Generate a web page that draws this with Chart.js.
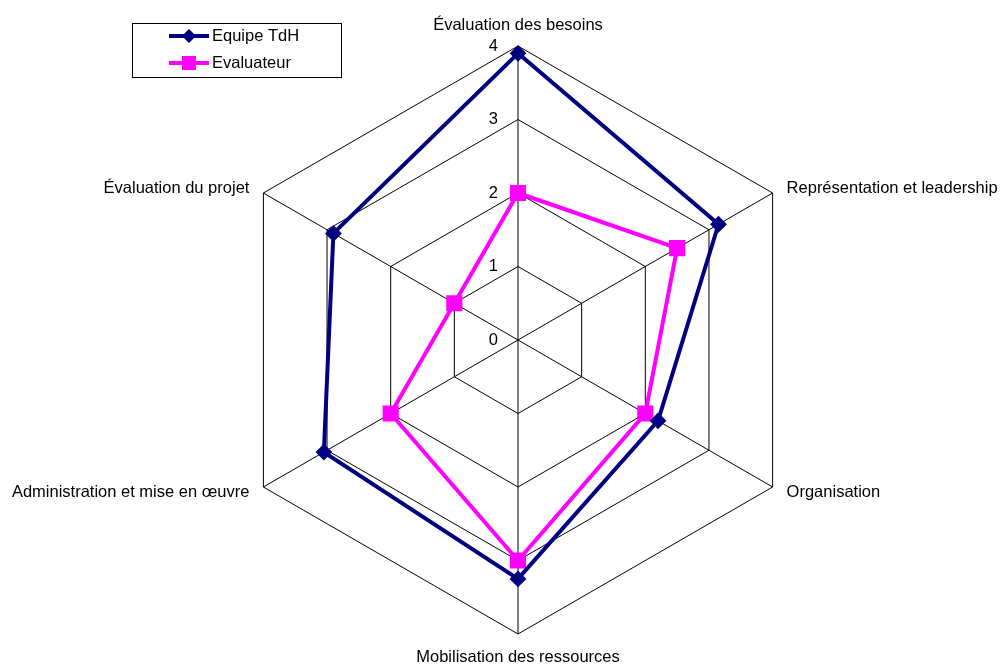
<!DOCTYPE html>
<html>
<head>
<meta charset="utf-8">
<script src="https://cdn.jsdelivr.net/npm/chart.js@4/dist/chart.umd.min.js"></script>
<style>
  html, body { margin: 0; padding: 0; background: #ffffff; }
  #wrap { width: 1000px; height: 666px; }
</style>
</head>
<body>
<div id="wrap"><canvas id="c" width="1000" height="666"></canvas></div>
<script>
// ---- data ----
const categories = [
  "Évaluation des besoins",
  "Représentation et leadership",
  "Organisation",
  "Mobilisation des ressources",
  "Administration et mise en œuvre",
  "Évaluation du projet"
];
const equipeTdH = [3.9, 3.15, 2.2, 3.25, 3.05, 2.9];
const evaluateur = [2.0, 2.5, 2.0, 3.0, 2.0, 1.0];
const tickValues = [0, 1, 2, 3, 4];
const seriesNames = ["Equipe TdH", "Evaluateur"];

const FONT = "'Liberation Sans', Arial, sans-serif";
const FS = 16.5;

const textPlugin = {
  id: 'excelText',
  afterDraw(chart) {
    const ctx = chart.ctx;
    const s = chart.scales.r;
    ctx.save();
    ctx.font = FS + 'px ' + FONT;
    ctx.fillStyle = '#000000';
    ctx.textBaseline = 'middle';
    // point labels
    chart.data.labels.forEach((lab, i) => {
      const p = s.getPointPosition(i, s.drawingArea);
      const dx = p.x - s.xCenter;
      const dy = p.y - s.yCenter;
      let x = p.x, y = p.y, align = 'center';
      if (Math.abs(dx) < 1) {
        y = dy < 0 ? p.y - 21 : p.y + 23;
      } else {
        align = dx > 0 ? 'left' : 'right';
        x = dx > 0 ? p.x + 14 : p.x - 14;
        y = dy < 0 ? p.y - 5 : p.y + 5;
      }
      ctx.textAlign = align;
      ctx.fillText(lab, x, y);
    });
    // tick labels
    ctx.textAlign = 'right';
    tickValues.forEach(v => {
      const y = s.yCenter - s.getDistanceFromCenterForValue(v);
      ctx.fillText(String(v), s.xCenter - 20, y);
    });
    // legend
    const bx = 132.5, by = 23.5, bw = 209, bh = 54;
    ctx.strokeStyle = '#000000';
    ctx.lineWidth = 1;
    ctx.strokeRect(bx, by, bw, bh);
    const rows = [36, 63];
    chart.data.datasets.forEach((ds, k) => {
      const y = rows[k];
      ctx.strokeStyle = ds.borderColor;
      ctx.lineWidth = 4;
      ctx.beginPath();
      ctx.moveTo(169, y);
      ctx.lineTo(209, y);
      ctx.stroke();
      ctx.fillStyle = ds.borderColor;
      ctx.beginPath();
      if (ds.pointStyle === 'rectRot') {
        ctx.moveTo(189, y - 7); ctx.lineTo(196, y); ctx.lineTo(189, y + 7); ctx.lineTo(182, y);
        ctx.closePath();
      } else {
        ctx.rect(182, y - 7, 14, 14);
      }
      ctx.fill();
      ctx.fillStyle = '#000000';
      ctx.textAlign = 'left';
      ctx.fillText(ds.label, 212, y);
    });
    ctx.restore();
  }
};

new Chart(document.getElementById('c'), {
  type: 'radar',
  data: {
    labels: categories,
    datasets: [
      {
        label: seriesNames[0],
        data: equipeTdH,
        borderColor: '#000080',
        backgroundColor: '#000080',
        borderWidth: 4,
        fill: false,
        pointStyle: 'rectRot',
        pointRadius: 7,
        pointBorderWidth: 2,
        pointBackgroundColor: '#000080',
        pointBorderColor: '#000080',
        tension: 0
      },
      {
        label: seriesNames[1],
        data: evaluateur,
        borderColor: '#FF00FF',
        backgroundColor: '#FF00FF',
        borderWidth: 4,
        fill: false,
        pointStyle: 'rect',
        pointRadius: 10,
        pointBorderWidth: 2,
        pointBackgroundColor: '#FF00FF',
        pointBorderColor: '#FF00FF',
        tension: 0
      }
    ]
  },
  options: {
    responsive: false,
    animation: false,
    devicePixelRatio: 1,
    layout: { padding: { left: 224, right: 188, top: 46, bottom: 32 } },
    plugins: { legend: { display: false }, tooltip: { enabled: false } },
    scales: {
      r: {
        min: 0,
        max: 4,
        beginAtZero: true,
        ticks: { display: false, stepSize: 1 },
        pointLabels: { display: false },
        grid: { color: '#000000', lineWidth: 1 },
        angleLines: { color: '#000000', lineWidth: 1 }
      }
    }
  },
  plugins: [textPlugin]
});
</script>
</body>
</html>
